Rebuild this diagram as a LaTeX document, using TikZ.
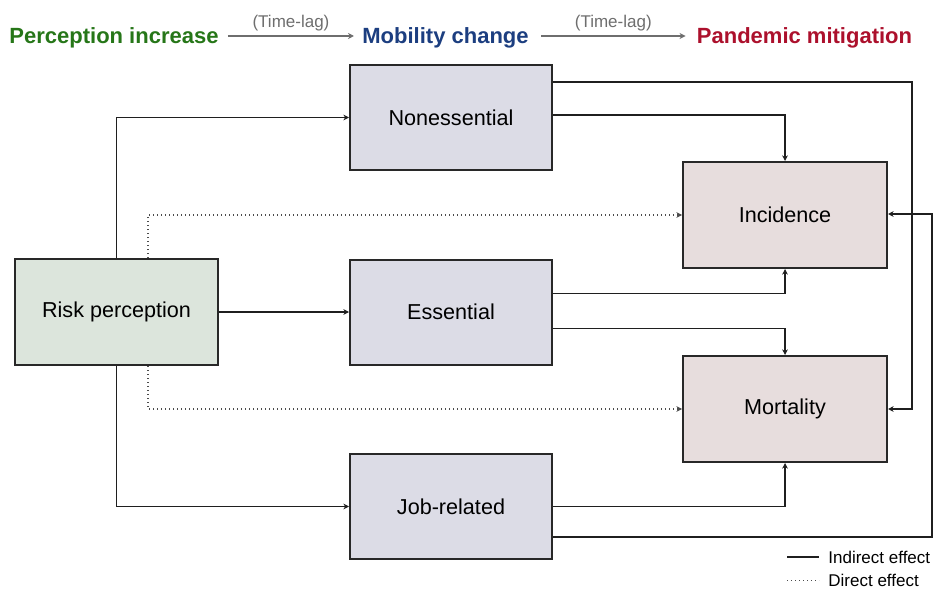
\documentclass[tikz,border=0pt]{standalone}
\usepackage{fontspec}
\setmainfont{Liberation Sans}
\usetikzlibrary{arrows.meta,positioning}

\definecolor{hgreen}{RGB}{38,118,24}
\definecolor{hblue}{RGB}{28,62,128}
\definecolor{hred}{RGB}{172,16,44}
\definecolor{riskfill}{RGB}{220,229,220}
\definecolor{mobfill}{RGB}{220,220,230}
\definecolor{outfill}{RGB}{231,221,221}
\definecolor{edge}{RGB}{40,40,40}
\definecolor{lagcol}{RGB}{110,110,110}

\tikzset{
  stagebox/.style={draw=edge, line width=1pt, inner sep=0pt,
    font=\fontsize{10.8}{13}\selectfont, text=black},
  riskbox/.style={stagebox, fill=riskfill, minimum width=101.5pt, minimum height=53pt},
  mobbox/.style={stagebox, fill=mobfill, minimum width=101pt, minimum height=52.5pt},
  outbox/.style={stagebox, fill=outfill, minimum width=102pt, minimum height=53pt},
  heading/.style={font=\fontsize{11}{13}\selectfont\bfseries, inner sep=0pt, anchor=base},
  conn/.style={draw=black!88, line width=0.85pt, -{Stealth[length=2.8pt,width=2.8pt]}},
  direct/.style={draw=black!70, line width=0.8pt, dash pattern=on 0.6pt off 1.4pt,
    -{Stealth[length=2.8pt,width=2.8pt]}},
  lag/.style={draw=lagcol, line width=0.75pt, -{Stealth[length=3pt,width=3pt]}},
  laglabel/.style={font=\fontsize{8.5}{10}\selectfont, text=lagcol, inner sep=0pt},
  legtext/.style={font=\fontsize{8.5}{10}\selectfont, inner sep=0pt, anchor=west}
}

\begin{document}
\begin{tikzpicture}[x=0.5pt, y=-0.5pt]
  \useasboundingbox (0,0) rectangle (935,588);

  % heading row
  \node[heading, text=hgreen] (h1) at (114,43.5) {Perception increase};
  \node[heading, text=hblue]  (h2) at (445.5,43.5) {Mobility change};
  \node[heading, text=hred]   (h3) at (804.5,43.5) {Pandemic mitigation};
  \draw[lag] ([xshift=4.5pt,yshift=3.75pt]h1.base east) -- ([xshift=-4pt,yshift=3.75pt]h2.base west)
    node[midway, above=2pt, laglabel] {(Time-lag)};
  \draw[lag] ([xshift=6pt,yshift=3.75pt]h2.base east) -- ([xshift=-5.5pt,yshift=3.75pt]h3.base west)
    node[midway, above=2pt, laglabel] {(Time-lag)};

  % boxes
  \node[riskbox] (risk)   at (116.5,312)   {Risk perception};
  \node[mobbox]  (noness) at (451,117.5)   {Nonessential};
  \node[mobbox]  (ess)    at (451,312)     {Essential};
  \node[mobbox]  (job)    at (451,506.5)   {Job-related};
  \node[outbox]  (inc)    at (785,215)     {Incidence};
  \node[outbox]  (mort)   at (785,409)     {Mortality};

  % guide columns
  \coordinate (dcol) at (148,0);
  \coordinate (rail1) at (912,0);
  \coordinate (rail2) at (932,0);

  % risk perception -> mobility
  \draw[conn] (risk.north) |- (noness.west);
  \draw[conn] (risk.east) -- (ess.west);
  \draw[conn] (risk.south) |- (job.west);

  % risk perception -> outcomes (direct)
  \draw[direct] (risk.north -| dcol) |- (inc.west);
  \draw[direct] (risk.south -| dcol) |- (mort.west);

  % mobility -> outcomes
  \coordinate (n1) at ([yshift=-9pt]noness.north east);
  \coordinate (n2) at ([yshift=1.25pt]noness.east);
  \coordinate (e1) at ([yshift=-17.5pt]ess.north east);
  \coordinate (e2) at ([yshift=18.5pt]ess.south east);
  \coordinate (j2) at ([yshift=11.5pt]job.south east);

  \draw[conn] (n1) -- (n1 -| rail1) |- (mort.east);
  \draw[conn] (n2) -| (inc.north);
  \draw[conn] (e1) -| (inc.south);
  \draw[conn] (e2) -| (mort.north);
  \draw[conn] (job.east) -| (mort.south);
  \draw[conn] (j2) -- (j2 -| rail2) |- ([yshift=0.5pt]inc.east);

  % legend
  \node[legtext] (l1) at (828,557) {Indirect effect};
  \node[legtext] (l2) at (828,580.5) {Direct effect};
  \draw[draw=black!88, line width=0.85pt] ([xshift=-20.5pt]l1.west) -- ([xshift=-4.5pt]l1.west);
  \draw[draw=black!70, line width=0.8pt, dash pattern=on 0.6pt off 1.4pt]
    ([xshift=-20.5pt]l2.west) -- ([xshift=-4.5pt]l2.west);
\end{tikzpicture}
\end{document}
